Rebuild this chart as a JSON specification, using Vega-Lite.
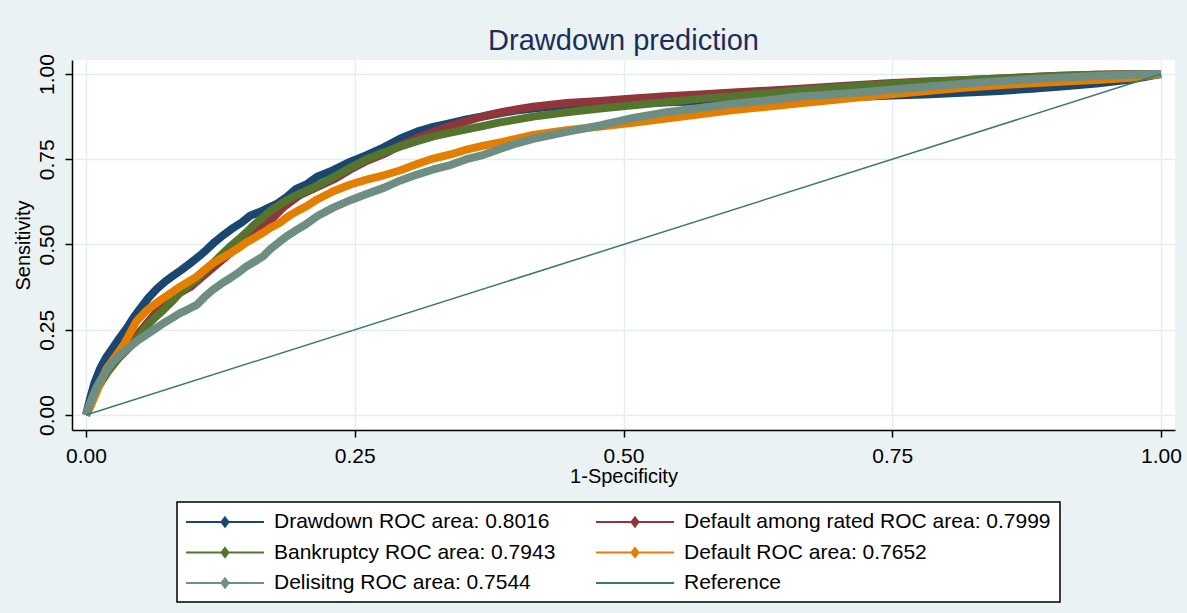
{
  "$schema": "https://vega.github.io/schema/vega-lite/v6.json",
  "width": 1103,
  "height": 370,
  "autosize": {"type": "none"},
  "padding": {"left": 72, "top": 60, "right": 12, "bottom": 183},
  "background": "#EAF2F3",
  "title": {"text": "Drawdown prediction", "fontSize": 29, "font": "Liberation Sans", "fontWeight": "normal", "color": "#1c2d5c", "anchor": "middle", "frame": "group", "offset": -2},
  "config": {"view": {"fill": "white", "stroke": null}, "font": "Liberation Sans"},
  "data": {"values": [
    {"s": "Drawdown ROC area: 0.8016", "x": 0, "y": 0},
    {"s": "Drawdown ROC area: 0.8016", "x": 0.004, "y": 0.05},
    {"s": "Drawdown ROC area: 0.8016", "x": 0.008, "y": 0.095},
    {"s": "Drawdown ROC area: 0.8016", "x": 0.013, "y": 0.135},
    {"s": "Drawdown ROC area: 0.8016", "x": 0.019, "y": 0.17},
    {"s": "Drawdown ROC area: 0.8016", "x": 0.025, "y": 0.197},
    {"s": "Drawdown ROC area: 0.8016", "x": 0.031, "y": 0.225},
    {"s": "Drawdown ROC area: 0.8016", "x": 0.038, "y": 0.255},
    {"s": "Drawdown ROC area: 0.8016", "x": 0.044, "y": 0.285},
    {"s": "Drawdown ROC area: 0.8016", "x": 0.05, "y": 0.31},
    {"s": "Drawdown ROC area: 0.8016", "x": 0.058, "y": 0.343},
    {"s": "Drawdown ROC area: 0.8016", "x": 0.066, "y": 0.37},
    {"s": "Drawdown ROC area: 0.8016", "x": 0.074, "y": 0.392},
    {"s": "Drawdown ROC area: 0.8016", "x": 0.081, "y": 0.408},
    {"s": "Drawdown ROC area: 0.8016", "x": 0.089, "y": 0.426},
    {"s": "Drawdown ROC area: 0.8016", "x": 0.097, "y": 0.445},
    {"s": "Drawdown ROC area: 0.8016", "x": 0.105, "y": 0.465},
    {"s": "Drawdown ROC area: 0.8016", "x": 0.112, "y": 0.484},
    {"s": "Drawdown ROC area: 0.8016", "x": 0.12, "y": 0.508},
    {"s": "Drawdown ROC area: 0.8016", "x": 0.128, "y": 0.528},
    {"s": "Drawdown ROC area: 0.8016", "x": 0.137, "y": 0.549},
    {"s": "Drawdown ROC area: 0.8016", "x": 0.145, "y": 0.565},
    {"s": "Drawdown ROC area: 0.8016", "x": 0.153, "y": 0.585},
    {"s": "Drawdown ROC area: 0.8016", "x": 0.162, "y": 0.596},
    {"s": "Drawdown ROC area: 0.8016", "x": 0.17, "y": 0.608},
    {"s": "Drawdown ROC area: 0.8016", "x": 0.178, "y": 0.62},
    {"s": "Drawdown ROC area: 0.8016", "x": 0.187, "y": 0.64},
    {"s": "Drawdown ROC area: 0.8016", "x": 0.195, "y": 0.662},
    {"s": "Drawdown ROC area: 0.8016", "x": 0.205, "y": 0.676},
    {"s": "Drawdown ROC area: 0.8016", "x": 0.215, "y": 0.699},
    {"s": "Drawdown ROC area: 0.8016", "x": 0.23, "y": 0.718},
    {"s": "Drawdown ROC area: 0.8016", "x": 0.246, "y": 0.743},
    {"s": "Drawdown ROC area: 0.8016", "x": 0.261, "y": 0.762},
    {"s": "Drawdown ROC area: 0.8016", "x": 0.277, "y": 0.785},
    {"s": "Drawdown ROC area: 0.8016", "x": 0.292, "y": 0.81},
    {"s": "Drawdown ROC area: 0.8016", "x": 0.308, "y": 0.831},
    {"s": "Drawdown ROC area: 0.8016", "x": 0.323, "y": 0.845},
    {"s": "Drawdown ROC area: 0.8016", "x": 0.339, "y": 0.856},
    {"s": "Drawdown ROC area: 0.8016", "x": 0.354, "y": 0.867},
    {"s": "Drawdown ROC area: 0.8016", "x": 0.37, "y": 0.876},
    {"s": "Drawdown ROC area: 0.8016", "x": 0.385, "y": 0.885},
    {"s": "Drawdown ROC area: 0.8016", "x": 0.4, "y": 0.893},
    {"s": "Drawdown ROC area: 0.8016", "x": 0.416, "y": 0.899},
    {"s": "Drawdown ROC area: 0.8016", "x": 0.43, "y": 0.903},
    {"s": "Drawdown ROC area: 0.8016", "x": 0.45, "y": 0.906},
    {"s": "Drawdown ROC area: 0.8016", "x": 0.5, "y": 0.913},
    {"s": "Drawdown ROC area: 0.8016", "x": 0.55, "y": 0.918},
    {"s": "Drawdown ROC area: 0.8016", "x": 0.6, "y": 0.922},
    {"s": "Drawdown ROC area: 0.8016", "x": 0.65, "y": 0.926},
    {"s": "Drawdown ROC area: 0.8016", "x": 0.7, "y": 0.93},
    {"s": "Drawdown ROC area: 0.8016", "x": 0.75, "y": 0.937},
    {"s": "Drawdown ROC area: 0.8016", "x": 0.78, "y": 0.94},
    {"s": "Drawdown ROC area: 0.8016", "x": 0.82, "y": 0.946},
    {"s": "Drawdown ROC area: 0.8016", "x": 0.85, "y": 0.95},
    {"s": "Drawdown ROC area: 0.8016", "x": 0.88, "y": 0.957},
    {"s": "Drawdown ROC area: 0.8016", "x": 0.91, "y": 0.964},
    {"s": "Drawdown ROC area: 0.8016", "x": 0.94, "y": 0.972},
    {"s": "Drawdown ROC area: 0.8016", "x": 0.97, "y": 0.983},
    {"s": "Drawdown ROC area: 0.8016", "x": 1, "y": 1},

    {"s": "Default among rated ROC area: 0.7999", "x": 0, "y": 0},
    {"s": "Default among rated ROC area: 0.7999", "x": 0.005, "y": 0.035},
    {"s": "Default among rated ROC area: 0.7999", "x": 0.012, "y": 0.09},
    {"s": "Default among rated ROC area: 0.7999", "x": 0.02, "y": 0.13},
    {"s": "Default among rated ROC area: 0.7999", "x": 0.03, "y": 0.17},
    {"s": "Default among rated ROC area: 0.7999", "x": 0.04, "y": 0.205},
    {"s": "Default among rated ROC area: 0.7999", "x": 0.053, "y": 0.255},
    {"s": "Default among rated ROC area: 0.7999", "x": 0.065, "y": 0.3},
    {"s": "Default among rated ROC area: 0.7999", "x": 0.08, "y": 0.345},
    {"s": "Default among rated ROC area: 0.7999", "x": 0.097, "y": 0.375},
    {"s": "Default among rated ROC area: 0.7999", "x": 0.11, "y": 0.41},
    {"s": "Default among rated ROC area: 0.7999", "x": 0.125, "y": 0.45},
    {"s": "Default among rated ROC area: 0.7999", "x": 0.14, "y": 0.49},
    {"s": "Default among rated ROC area: 0.7999", "x": 0.155, "y": 0.53},
    {"s": "Default among rated ROC area: 0.7999", "x": 0.17, "y": 0.565},
    {"s": "Default among rated ROC area: 0.7999", "x": 0.184, "y": 0.61},
    {"s": "Default among rated ROC area: 0.7999", "x": 0.199, "y": 0.645},
    {"s": "Default among rated ROC area: 0.7999", "x": 0.215, "y": 0.668},
    {"s": "Default among rated ROC area: 0.7999", "x": 0.23, "y": 0.69},
    {"s": "Default among rated ROC area: 0.7999", "x": 0.246, "y": 0.72},
    {"s": "Default among rated ROC area: 0.7999", "x": 0.261, "y": 0.745},
    {"s": "Default among rated ROC area: 0.7999", "x": 0.277, "y": 0.765},
    {"s": "Default among rated ROC area: 0.7999", "x": 0.292, "y": 0.79},
    {"s": "Default among rated ROC area: 0.7999", "x": 0.308, "y": 0.812},
    {"s": "Default among rated ROC area: 0.7999", "x": 0.323, "y": 0.83},
    {"s": "Default among rated ROC area: 0.7999", "x": 0.339, "y": 0.848},
    {"s": "Default among rated ROC area: 0.7999", "x": 0.354, "y": 0.862},
    {"s": "Default among rated ROC area: 0.7999", "x": 0.37, "y": 0.876},
    {"s": "Default among rated ROC area: 0.7999", "x": 0.385, "y": 0.887},
    {"s": "Default among rated ROC area: 0.7999", "x": 0.4, "y": 0.896},
    {"s": "Default among rated ROC area: 0.7999", "x": 0.416, "y": 0.904},
    {"s": "Default among rated ROC area: 0.7999", "x": 0.447, "y": 0.915},
    {"s": "Default among rated ROC area: 0.7999", "x": 0.478, "y": 0.921},
    {"s": "Default among rated ROC area: 0.7999", "x": 0.509, "y": 0.928},
    {"s": "Default among rated ROC area: 0.7999", "x": 0.54, "y": 0.935},
    {"s": "Default among rated ROC area: 0.7999", "x": 0.571, "y": 0.94},
    {"s": "Default among rated ROC area: 0.7999", "x": 0.602, "y": 0.946},
    {"s": "Default among rated ROC area: 0.7999", "x": 0.633, "y": 0.951},
    {"s": "Default among rated ROC area: 0.7999", "x": 0.664, "y": 0.957},
    {"s": "Default among rated ROC area: 0.7999", "x": 0.7, "y": 0.964},
    {"s": "Default among rated ROC area: 0.7999", "x": 0.742, "y": 0.972},
    {"s": "Default among rated ROC area: 0.7999", "x": 0.78, "y": 0.978},
    {"s": "Default among rated ROC area: 0.7999", "x": 0.819, "y": 0.982},
    {"s": "Default among rated ROC area: 0.7999", "x": 0.86, "y": 0.988},
    {"s": "Default among rated ROC area: 0.7999", "x": 0.9, "y": 0.994},
    {"s": "Default among rated ROC area: 0.7999", "x": 0.93, "y": 0.997},
    {"s": "Default among rated ROC area: 0.7999", "x": 0.96, "y": 0.999},
    {"s": "Default among rated ROC area: 0.7999", "x": 1, "y": 1},

    {"s": "Bankruptcy ROC area: 0.7943", "x": 0, "y": 0},
    {"s": "Bankruptcy ROC area: 0.7943", "x": 0.005, "y": 0.035},
    {"s": "Bankruptcy ROC area: 0.7943", "x": 0.012, "y": 0.085},
    {"s": "Bankruptcy ROC area: 0.7943", "x": 0.02, "y": 0.125},
    {"s": "Bankruptcy ROC area: 0.7943", "x": 0.03, "y": 0.165},
    {"s": "Bankruptcy ROC area: 0.7943", "x": 0.044, "y": 0.21},
    {"s": "Bankruptcy ROC area: 0.7943", "x": 0.056, "y": 0.259},
    {"s": "Bankruptcy ROC area: 0.7943", "x": 0.064, "y": 0.285},
    {"s": "Bankruptcy ROC area: 0.7943", "x": 0.072, "y": 0.308},
    {"s": "Bankruptcy ROC area: 0.7943", "x": 0.08, "y": 0.333},
    {"s": "Bankruptcy ROC area: 0.7943", "x": 0.087, "y": 0.357},
    {"s": "Bankruptcy ROC area: 0.7943", "x": 0.095, "y": 0.378},
    {"s": "Bankruptcy ROC area: 0.7943", "x": 0.103, "y": 0.398},
    {"s": "Bankruptcy ROC area: 0.7943", "x": 0.11, "y": 0.42},
    {"s": "Bankruptcy ROC area: 0.7943", "x": 0.118, "y": 0.445},
    {"s": "Bankruptcy ROC area: 0.7943", "x": 0.126, "y": 0.47},
    {"s": "Bankruptcy ROC area: 0.7943", "x": 0.134, "y": 0.494},
    {"s": "Bankruptcy ROC area: 0.7943", "x": 0.142, "y": 0.515},
    {"s": "Bankruptcy ROC area: 0.7943", "x": 0.149, "y": 0.535},
    {"s": "Bankruptcy ROC area: 0.7943", "x": 0.157, "y": 0.56},
    {"s": "Bankruptcy ROC area: 0.7943", "x": 0.165, "y": 0.58},
    {"s": "Bankruptcy ROC area: 0.7943", "x": 0.172, "y": 0.6},
    {"s": "Bankruptcy ROC area: 0.7943", "x": 0.18, "y": 0.616},
    {"s": "Bankruptcy ROC area: 0.7943", "x": 0.188, "y": 0.632},
    {"s": "Bankruptcy ROC area: 0.7943", "x": 0.196, "y": 0.645},
    {"s": "Bankruptcy ROC area: 0.7943", "x": 0.205, "y": 0.658},
    {"s": "Bankruptcy ROC area: 0.7943", "x": 0.215, "y": 0.672},
    {"s": "Bankruptcy ROC area: 0.7943", "x": 0.23, "y": 0.697},
    {"s": "Bankruptcy ROC area: 0.7943", "x": 0.246, "y": 0.725},
    {"s": "Bankruptcy ROC area: 0.7943", "x": 0.261, "y": 0.75},
    {"s": "Bankruptcy ROC area: 0.7943", "x": 0.277, "y": 0.77},
    {"s": "Bankruptcy ROC area: 0.7943", "x": 0.292, "y": 0.787},
    {"s": "Bankruptcy ROC area: 0.7943", "x": 0.308, "y": 0.803},
    {"s": "Bankruptcy ROC area: 0.7943", "x": 0.323, "y": 0.817},
    {"s": "Bankruptcy ROC area: 0.7943", "x": 0.339, "y": 0.828},
    {"s": "Bankruptcy ROC area: 0.7943", "x": 0.354, "y": 0.838},
    {"s": "Bankruptcy ROC area: 0.7943", "x": 0.37, "y": 0.848},
    {"s": "Bankruptcy ROC area: 0.7943", "x": 0.385, "y": 0.858},
    {"s": "Bankruptcy ROC area: 0.7943", "x": 0.4, "y": 0.866},
    {"s": "Bankruptcy ROC area: 0.7943", "x": 0.416, "y": 0.875},
    {"s": "Bankruptcy ROC area: 0.7943", "x": 0.447, "y": 0.888},
    {"s": "Bankruptcy ROC area: 0.7943", "x": 0.478, "y": 0.899},
    {"s": "Bankruptcy ROC area: 0.7943", "x": 0.509, "y": 0.908},
    {"s": "Bankruptcy ROC area: 0.7943", "x": 0.54, "y": 0.918},
    {"s": "Bankruptcy ROC area: 0.7943", "x": 0.571, "y": 0.927},
    {"s": "Bankruptcy ROC area: 0.7943", "x": 0.602, "y": 0.935},
    {"s": "Bankruptcy ROC area: 0.7943", "x": 0.633, "y": 0.943},
    {"s": "Bankruptcy ROC area: 0.7943", "x": 0.664, "y": 0.952},
    {"s": "Bankruptcy ROC area: 0.7943", "x": 0.695, "y": 0.96},
    {"s": "Bankruptcy ROC area: 0.7943", "x": 0.727, "y": 0.966},
    {"s": "Bankruptcy ROC area: 0.7943", "x": 0.757, "y": 0.972},
    {"s": "Bankruptcy ROC area: 0.7943", "x": 0.79, "y": 0.978},
    {"s": "Bankruptcy ROC area: 0.7943", "x": 0.819, "y": 0.982},
    {"s": "Bankruptcy ROC area: 0.7943", "x": 0.86, "y": 0.988},
    {"s": "Bankruptcy ROC area: 0.7943", "x": 0.9, "y": 0.994},
    {"s": "Bankruptcy ROC area: 0.7943", "x": 0.94, "y": 0.998},
    {"s": "Bankruptcy ROC area: 0.7943", "x": 1, "y": 1},

    {"s": "Default ROC area: 0.7652", "x": 0, "y": 0},
    {"s": "Default ROC area: 0.7652", "x": 0.004, "y": 0.024},
    {"s": "Default ROC area: 0.7652", "x": 0.01, "y": 0.07},
    {"s": "Default ROC area: 0.7652", "x": 0.019, "y": 0.135},
    {"s": "Default ROC area: 0.7652", "x": 0.027, "y": 0.17},
    {"s": "Default ROC area: 0.7652", "x": 0.035, "y": 0.205},
    {"s": "Default ROC area: 0.7652", "x": 0.041, "y": 0.24},
    {"s": "Default ROC area: 0.7652", "x": 0.047, "y": 0.275},
    {"s": "Default ROC area: 0.7652", "x": 0.056, "y": 0.305},
    {"s": "Default ROC area: 0.7652", "x": 0.064, "y": 0.325},
    {"s": "Default ROC area: 0.7652", "x": 0.072, "y": 0.343},
    {"s": "Default ROC area: 0.7652", "x": 0.08, "y": 0.36},
    {"s": "Default ROC area: 0.7652", "x": 0.087, "y": 0.375},
    {"s": "Default ROC area: 0.7652", "x": 0.095, "y": 0.39},
    {"s": "Default ROC area: 0.7652", "x": 0.103, "y": 0.406},
    {"s": "Default ROC area: 0.7652", "x": 0.11, "y": 0.425},
    {"s": "Default ROC area: 0.7652", "x": 0.118, "y": 0.445},
    {"s": "Default ROC area: 0.7652", "x": 0.126, "y": 0.46},
    {"s": "Default ROC area: 0.7652", "x": 0.134, "y": 0.474},
    {"s": "Default ROC area: 0.7652", "x": 0.142, "y": 0.49},
    {"s": "Default ROC area: 0.7652", "x": 0.149, "y": 0.506},
    {"s": "Default ROC area: 0.7652", "x": 0.157, "y": 0.52},
    {"s": "Default ROC area: 0.7652", "x": 0.165, "y": 0.535},
    {"s": "Default ROC area: 0.7652", "x": 0.172, "y": 0.55},
    {"s": "Default ROC area: 0.7652", "x": 0.18, "y": 0.563},
    {"s": "Default ROC area: 0.7652", "x": 0.188, "y": 0.582},
    {"s": "Default ROC area: 0.7652", "x": 0.196, "y": 0.597},
    {"s": "Default ROC area: 0.7652", "x": 0.205, "y": 0.612},
    {"s": "Default ROC area: 0.7652", "x": 0.215, "y": 0.632},
    {"s": "Default ROC area: 0.7652", "x": 0.23, "y": 0.656},
    {"s": "Default ROC area: 0.7652", "x": 0.246, "y": 0.676},
    {"s": "Default ROC area: 0.7652", "x": 0.261, "y": 0.69},
    {"s": "Default ROC area: 0.7652", "x": 0.277, "y": 0.703},
    {"s": "Default ROC area: 0.7652", "x": 0.292, "y": 0.717},
    {"s": "Default ROC area: 0.7652", "x": 0.308, "y": 0.736},
    {"s": "Default ROC area: 0.7652", "x": 0.323, "y": 0.752},
    {"s": "Default ROC area: 0.7652", "x": 0.339, "y": 0.764},
    {"s": "Default ROC area: 0.7652", "x": 0.354, "y": 0.778},
    {"s": "Default ROC area: 0.7652", "x": 0.37, "y": 0.79},
    {"s": "Default ROC area: 0.7652", "x": 0.385, "y": 0.799},
    {"s": "Default ROC area: 0.7652", "x": 0.4, "y": 0.81},
    {"s": "Default ROC area: 0.7652", "x": 0.416, "y": 0.821},
    {"s": "Default ROC area: 0.7652", "x": 0.447, "y": 0.835},
    {"s": "Default ROC area: 0.7652", "x": 0.478, "y": 0.846},
    {"s": "Default ROC area: 0.7652", "x": 0.509, "y": 0.857},
    {"s": "Default ROC area: 0.7652", "x": 0.54, "y": 0.869},
    {"s": "Default ROC area: 0.7652", "x": 0.571, "y": 0.882},
    {"s": "Default ROC area: 0.7652", "x": 0.602, "y": 0.894},
    {"s": "Default ROC area: 0.7652", "x": 0.633, "y": 0.904},
    {"s": "Default ROC area: 0.7652", "x": 0.664, "y": 0.914},
    {"s": "Default ROC area: 0.7652", "x": 0.695, "y": 0.924},
    {"s": "Default ROC area: 0.7652", "x": 0.727, "y": 0.934},
    {"s": "Default ROC area: 0.7652", "x": 0.757, "y": 0.943},
    {"s": "Default ROC area: 0.7652", "x": 0.79, "y": 0.952},
    {"s": "Default ROC area: 0.7652", "x": 0.819, "y": 0.96},
    {"s": "Default ROC area: 0.7652", "x": 0.85, "y": 0.967},
    {"s": "Default ROC area: 0.7652", "x": 0.881, "y": 0.973},
    {"s": "Default ROC area: 0.7652", "x": 0.91, "y": 0.978},
    {"s": "Default ROC area: 0.7652", "x": 0.943, "y": 0.983},
    {"s": "Default ROC area: 0.7652", "x": 0.97, "y": 0.988},
    {"s": "Default ROC area: 0.7652", "x": 1, "y": 1},

    {"s": "Delisitng ROC area: 0.7544", "x": 0, "y": 0},
    {"s": "Delisitng ROC area: 0.7544", "x": 0.005, "y": 0.045},
    {"s": "Delisitng ROC area: 0.7544", "x": 0.01, "y": 0.083},
    {"s": "Delisitng ROC area: 0.7544", "x": 0.018, "y": 0.125},
    {"s": "Delisitng ROC area: 0.7544", "x": 0.025, "y": 0.156},
    {"s": "Delisitng ROC area: 0.7544", "x": 0.033, "y": 0.18},
    {"s": "Delisitng ROC area: 0.7544", "x": 0.041, "y": 0.2},
    {"s": "Delisitng ROC area: 0.7544", "x": 0.048, "y": 0.218},
    {"s": "Delisitng ROC area: 0.7544", "x": 0.056, "y": 0.235},
    {"s": "Delisitng ROC area: 0.7544", "x": 0.064, "y": 0.252},
    {"s": "Delisitng ROC area: 0.7544", "x": 0.072, "y": 0.269},
    {"s": "Delisitng ROC area: 0.7544", "x": 0.08, "y": 0.284},
    {"s": "Delisitng ROC area: 0.7544", "x": 0.087, "y": 0.298},
    {"s": "Delisitng ROC area: 0.7544", "x": 0.095, "y": 0.31},
    {"s": "Delisitng ROC area: 0.7544", "x": 0.103, "y": 0.323},
    {"s": "Delisitng ROC area: 0.7544", "x": 0.11, "y": 0.345},
    {"s": "Delisitng ROC area: 0.7544", "x": 0.118, "y": 0.367},
    {"s": "Delisitng ROC area: 0.7544", "x": 0.126, "y": 0.385},
    {"s": "Delisitng ROC area: 0.7544", "x": 0.134, "y": 0.401},
    {"s": "Delisitng ROC area: 0.7544", "x": 0.142, "y": 0.418},
    {"s": "Delisitng ROC area: 0.7544", "x": 0.149, "y": 0.435},
    {"s": "Delisitng ROC area: 0.7544", "x": 0.157, "y": 0.45},
    {"s": "Delisitng ROC area: 0.7544", "x": 0.165, "y": 0.466},
    {"s": "Delisitng ROC area: 0.7544", "x": 0.172, "y": 0.488},
    {"s": "Delisitng ROC area: 0.7544", "x": 0.18, "y": 0.508},
    {"s": "Delisitng ROC area: 0.7544", "x": 0.188, "y": 0.527},
    {"s": "Delisitng ROC area: 0.7544", "x": 0.196, "y": 0.543},
    {"s": "Delisitng ROC area: 0.7544", "x": 0.205, "y": 0.56},
    {"s": "Delisitng ROC area: 0.7544", "x": 0.215, "y": 0.583},
    {"s": "Delisitng ROC area: 0.7544", "x": 0.23, "y": 0.608},
    {"s": "Delisitng ROC area: 0.7544", "x": 0.246, "y": 0.63},
    {"s": "Delisitng ROC area: 0.7544", "x": 0.261, "y": 0.648},
    {"s": "Delisitng ROC area: 0.7544", "x": 0.277, "y": 0.666},
    {"s": "Delisitng ROC area: 0.7544", "x": 0.292, "y": 0.687},
    {"s": "Delisitng ROC area: 0.7544", "x": 0.308, "y": 0.705},
    {"s": "Delisitng ROC area: 0.7544", "x": 0.323, "y": 0.72},
    {"s": "Delisitng ROC area: 0.7544", "x": 0.339, "y": 0.733},
    {"s": "Delisitng ROC area: 0.7544", "x": 0.354, "y": 0.75},
    {"s": "Delisitng ROC area: 0.7544", "x": 0.37, "y": 0.763},
    {"s": "Delisitng ROC area: 0.7544", "x": 0.385, "y": 0.78},
    {"s": "Delisitng ROC area: 0.7544", "x": 0.4, "y": 0.796},
    {"s": "Delisitng ROC area: 0.7544", "x": 0.416, "y": 0.81},
    {"s": "Delisitng ROC area: 0.7544", "x": 0.447, "y": 0.83},
    {"s": "Delisitng ROC area: 0.7544", "x": 0.478, "y": 0.849},
    {"s": "Delisitng ROC area: 0.7544", "x": 0.509, "y": 0.871},
    {"s": "Delisitng ROC area: 0.7544", "x": 0.54, "y": 0.888},
    {"s": "Delisitng ROC area: 0.7544", "x": 0.571, "y": 0.9},
    {"s": "Delisitng ROC area: 0.7544", "x": 0.602, "y": 0.913},
    {"s": "Delisitng ROC area: 0.7544", "x": 0.633, "y": 0.922},
    {"s": "Delisitng ROC area: 0.7544", "x": 0.664, "y": 0.934},
    {"s": "Delisitng ROC area: 0.7544", "x": 0.695, "y": 0.94},
    {"s": "Delisitng ROC area: 0.7544", "x": 0.727, "y": 0.948},
    {"s": "Delisitng ROC area: 0.7544", "x": 0.757, "y": 0.956},
    {"s": "Delisitng ROC area: 0.7544", "x": 0.79, "y": 0.965},
    {"s": "Delisitng ROC area: 0.7544", "x": 0.819, "y": 0.972},
    {"s": "Delisitng ROC area: 0.7544", "x": 0.85, "y": 0.979},
    {"s": "Delisitng ROC area: 0.7544", "x": 0.881, "y": 0.985},
    {"s": "Delisitng ROC area: 0.7544", "x": 0.91, "y": 0.99},
    {"s": "Delisitng ROC area: 0.7544", "x": 0.943, "y": 0.995},
    {"s": "Delisitng ROC area: 0.7544", "x": 0.97, "y": 0.998},
    {"s": "Delisitng ROC area: 0.7544", "x": 1, "y": 1},

    {"s": "Reference", "x": 0, "y": 0},
    {"s": "Reference", "x": 1, "y": 1}
  ]},
  "encoding": {
    "x": {"field": "x", "type": "quantitative",
      "scale": {"domain": [-0.013, 1.013], "nice": false, "zero": false},
      "axis": {"values": [0, 0.25, 0.5, 0.75, 1], "format": ".2f", "title": "1-Specificity",
        "labelFontSize": 21, "titleFontSize": 20, "titleFontWeight": "normal", "labelColor": "black", "titleColor": "black",
        "labelFont": "Liberation Sans", "titleFont": "Liberation Sans",
        "domainColor": "black", "domainWidth": 1.5, "tickColor": "black", "tickSize": 7, "tickWidth": 1.5,
        "labelPadding": 8, "titlePadding": 0, "gridColor": "#E4EDEF", "gridWidth": 1.5, "labelFlush": false, "labelOverlap": false}},
    "y": {"field": "y", "type": "quantitative",
      "scale": {"domain": [-0.044, 1.041], "nice": false, "zero": false},
      "axis": {"values": [0, 0.25, 0.5, 0.75, 1], "format": ".2f", "title": "Sensitivity",
        "labelFontSize": 21, "titleFontSize": 20, "titleFontWeight": "normal", "labelColor": "black", "titleColor": "black",
        "labelFont": "Liberation Sans", "titleFont": "Liberation Sans",
        "labelAngle": -90, "labelAlign": "center", "labelBaseline": "bottom",
        "domainColor": "black", "domainWidth": 1.5, "tickColor": "black", "tickSize": 7, "tickWidth": 1.5,
        "labelPadding": 8, "titlePadding": 3, "gridColor": "#E4EDEF", "gridWidth": 1.5, "labelFlush": false, "labelOverlap": false}},
    "color": {"field": "s", "type": "nominal",
      "scale": {
        "domain": ["Drawdown ROC area: 0.8016", "Default among rated ROC area: 0.7999", "Bankruptcy ROC area: 0.7943", "Default ROC area: 0.7652", "Delisitng ROC area: 0.7544", "Reference"],
        "range": ["#1a476f", "#90353b", "#55752f", "#e37e00", "#6e8e84", "#3a7872"]},
      "legend": {"orient": "none", "legendX": 105, "legendY": 442, "columns": 2, "direction": "horizontal", "title": null,
        "fillColor": "white", "strokeColor": "black", "padding": 9,
        "labelFontSize": 21, "labelFont": "Liberation Sans", "labelColor": "black", "labelOffset": 66, "labelLimit": 600,
        "rowPadding": 9.5, "columnPadding": 36, "symbolSize": 400, "symbolStrokeWidth": 2, "symbolType": "M-1.1,0H6.7",
        "encode": {
          "legend": {"update": {"strokeWidth": {"value": 1.5}}},
          "symbols": {"update": {
            "shape": {"signal": "datum.value === 'Reference' ? 'M-1.1,0H6.7' : 'M-1.1,0H6.7M2.8,-0.45L3.15,0L2.8,0.45L2.45,0Z'"},
            "fill": {"scale": "color", "field": "value"},
            "stroke": {"scale": "color", "field": "value"},
            "opacity": {"value": 1},
            "strokeWidth": {"value": 2}}}}}}
  },
  "layer": [
    {"transform": [{"filter": "datum.s !== 'Reference'"}],
     "mark": {"type": "line", "strokeWidth": 8, "strokeJoin": "round"}},
    {"transform": [{"filter": "datum.s === 'Reference'"}],
     "mark": {"type": "line", "strokeWidth": 1.5}}
  ]
}
